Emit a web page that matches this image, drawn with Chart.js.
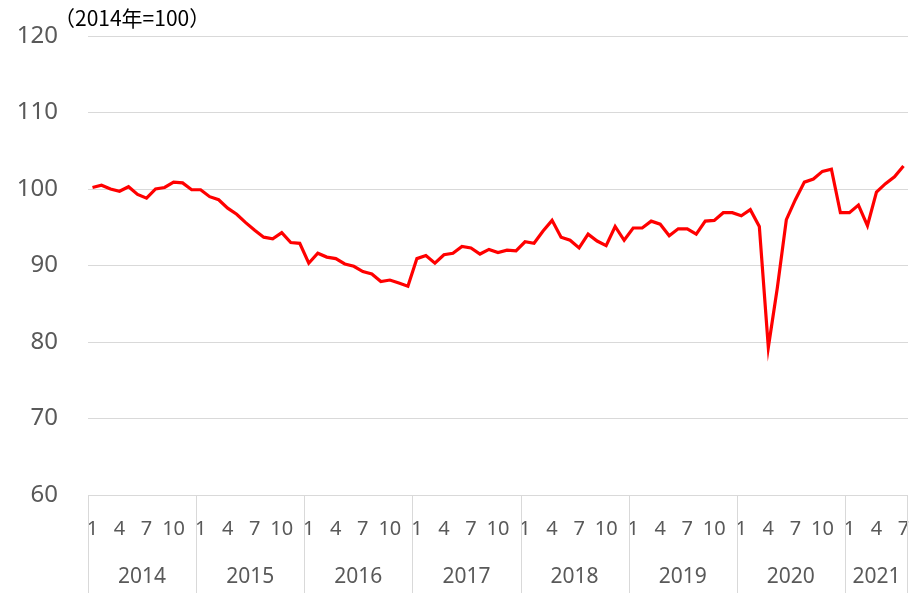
<!DOCTYPE html>
<html>
<head>
<meta charset="utf-8">
<script src="https://cdn.jsdelivr.net/npm/chart.js@4"></script>
<style>
  body { margin: 0; background: #fff; }
  #wrap { width: 921px; height: 593px; position: relative; }
</style>
</head>
<body>
<div id="wrap"><canvas id="chart"></canvas></div>
<script>
// index, 2014 = 100, monthly from Jan 2014 to Jul 2021
const years = ["2014", "2015", "2016", "2017", "2018", "2019", "2020", "2021"];
const monthsInYear = [12, 12, 12, 12, 12, 12, 12, 7];
const shownMonths = [1, 4, 7, 10];
const indexValues = [
  100.2, 100.5, 100.0, 99.7, 100.3, 99.3, 98.8, 100.0, 100.2, 100.9, 100.8, 99.9,
  99.9, 99.0, 98.6, 97.5, 96.7, 95.6, 94.6, 93.7, 93.5, 94.3, 93.0, 92.9,
  90.3, 91.6, 91.1, 90.9, 90.2, 89.9, 89.2, 88.9, 87.9, 88.1, 87.7, 87.3,
  90.9, 91.3, 90.3, 91.4, 91.6, 92.5, 92.3, 91.5, 92.1, 91.7, 92.0, 91.9,
  93.1, 92.9, 94.5, 95.9, 93.7, 93.3, 92.3, 94.1, 93.2, 92.6, 95.1, 93.3,
  94.9, 94.9, 95.8, 95.4, 93.9, 94.8, 94.8, 94.1, 95.8, 95.9, 96.9, 96.9,
  96.5, 97.3, 95.1, 79.3, 87.1, 96.0, 98.6, 100.9, 101.3, 102.3, 102.6, 96.9,
  96.9, 97.9, 95.2, 99.6, 100.7, 101.6, 103.0
];
const unitNote = "（2014年=100）";

const labels = [];
years.forEach((y, k) => {
  for (let m = 1; m <= monthsInYear[k]; m++) labels.push(String(m));
});

const gridColor = "#d9d9d9";
const textColor = "#595959";

// year row under the month ticks, with separators between years
const yearAxis = {
  id: "yearAxis",
  afterDraw(chart) {
    const { ctx, chartArea, scales: { x } } = chart;
    const half = (x.getPixelForValue(1) - x.getPixelForValue(0)) / 2;
    const bottom = chart.height;
    ctx.save();
    ctx.strokeStyle = gridColor;
    ctx.lineWidth = 1;
    ctx.fillStyle = textColor;
    ctx.font = '21px "Noto Sans"';
    ctx.textAlign = "center";
    ctx.textBaseline = "middle";
    let start = 0;
    years.forEach((y, k) => {
      const end = start + monthsInYear[k] - 1;
      const left = x.getPixelForValue(start) - half;
      const right = x.getPixelForValue(end) + half;
      const lx = Math.round(left) + 0.5;
      ctx.beginPath();
      ctx.moveTo(lx, chartArea.bottom);
      ctx.lineTo(lx, bottom);
      ctx.stroke();
      if (k === years.length - 1) {
        const rx = Math.round(right) - 0.5;
        ctx.beginPath();
        ctx.moveTo(rx, chartArea.bottom);
        ctx.lineTo(rx, bottom);
        ctx.stroke();
      }
      ctx.fillText(y, (left + right) / 2, 577);
      start = end + 1;
    });
    // unit note
    ctx.fillStyle = "#000";
    ctx.font = '21px "Noto Sans CJK JP"';
    ctx.textAlign = "left";
    ctx.fillText(unitNote, 54, 18);
    ctx.restore();
  }
};

new Chart(document.getElementById("chart"), {
  type: "line",
  data: {
    labels: labels,
    datasets: [{
      data: indexValues,
      borderColor: "#ff0000",
      borderWidth: 3.2,
      pointRadius: 0,
      tension: 0,
      fill: false
    }]
  },
  options: {
    responsive: true,
    maintainAspectRatio: false,
    animation: false,
    layout: { padding: { top: 36, right: 13, bottom: 0, left: 0 } },
    plugins: { legend: { display: false }, tooltip: { enabled: false } },
    scales: {
      x: {
        offset: true,
        grid: { display: false, drawTicks: false },
        border: { display: false },
        ticks: {
          autoSkip: false,
          maxRotation: 0,
          padding: 22,
          color: textColor,
          font: { family: "Noto Sans", size: 20 },
          callback: (v, i) => shownMonths.includes(Number(labels[i])) ? labels[i] : ""
        },
        afterFit: s => { s.height = 98; s.paddingLeft = 0; s.paddingRight = 0; }
      },
      y: {
        min: 60,
        max: 120,
        grid: { color: gridColor, lineWidth: 1, drawTicks: false },
        border: { display: false },
        ticks: {
          stepSize: 10,
          padding: 30,
          color: textColor,
          font: { family: "Noto Sans", size: 24 }
        },
        afterFit: s => { s.width = 88; s.paddingTop = 0; s.paddingBottom = 0; }
      }
    }
  },
  plugins: [yearAxis]
});
</script>
</body>
</html>
